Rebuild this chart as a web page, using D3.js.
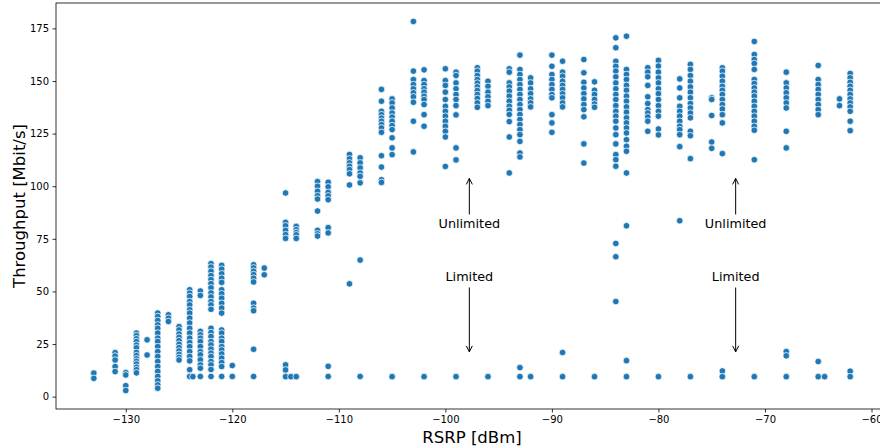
<!DOCTYPE html>
<html>
<head>
<meta charset="utf-8">
<script src="https://cdn.jsdelivr.net/npm/d3@7"></script>
<style>
  body { margin: 0; background: #fff; }
  svg { display: block; font-family: "DejaVu Sans", sans-serif; }
</style>
</head>
<body>
<svg width="880" height="448"></svg>
<script>
// RSRP [dBm] of each measurement column
const rsrp = [-133, -131, -130, -129, -128, -127, -126, -125, -124, -123.7, -123, -122, -121, -120,
  -118, -117, -115, -114.5, -114, -112, -111, -109, -108, -106, -105, -103, -102, -100, -99,
  -97, -96, -94, -93, -92, -90, -89, -87, -86, -84, -83, -81, -80, -78, -77, -75, -74, -71,
  -68, -65, -64.4, -63, -62];

// throughput [Mbit/s] measured at each RSRP column above
const throughput = [
  [11.2, 8.7],
  [20.9, 19.3, 17.4, 14.3, 11.9],
  [11.4, 10.3, 5.2, 2.9],
  [30.2, 29, 27.5, 26.2, 24.5, 23.2, 21, 19.5, 18, 16.8, 15.5, 14, 12.8, 11.3],
  [27, 19.8],
  [39.7, 38.1, 36.2, 34.1, 32.5, 30.2, 27.8, 26.2, 23.8, 21.4, 19.1, 16.7, 14.3, 12, 9.6, 7.5, 5.6, 4],
  [38.9, 37.3, 35.7],
  [33.3, 31.7, 29.8, 28.2, 26.6, 24.9, 23.3, 21.7, 20.1, 18.7, 17.4],
  [50.8, 49.2, 47.6, 45.2, 43.6, 41.3, 39.7, 37.3, 35, 32.5, 30.2, 27.8, 25.7, 23.8, 21.4, 19.1, 17, 12.8, 9.6],
  [9.5],
  [50.2, 48.1, 31, 29.4, 27.8, 26.2, 23.8, 21.4, 19.9, 17.5, 15.1, 13.5, 9.6],
  [63.2, 61.6, 59.6, 57.5, 55.6, 53.7, 51.7, 49.3, 47.4, 45.2, 43.6, 41.5, 32.5, 30.5, 28.6, 26.2, 24.6, 22.6, 20.7, 19.1, 16.7, 15.1, 12.9, 9.6],
  [62.4, 60.6, 58.4, 56.3, 54.3, 50.8, 48.9, 46.8, 44.4, 42.1, 39.7, 31.7, 30.2, 27.8, 26.2, 23.8, 22.2, 20.3, 18.3, 16.2, 14.3, 9.6],
  [14.8, 9.6],
  [62.7, 61.2, 59.6, 58, 56.3, 54.5, 44.4, 42.1, 40.8, 22.5, 9.6],
  [61.1, 57.9],
  [96.8, 82.8, 81.2, 79, 77, 75.2, 15.1, 12.7, 9.5],
  [9.5],
  [80.9, 79.3, 78, 76.9, 75.2, 9.5],
  [102.2, 100, 97.6, 95.5, 93.9, 88.2, 79, 77.4, 76.3],
  [101.9, 99.7, 97.1, 95.4, 93.6, 80.3, 77.8, 14.4, 9.6],
  [115.1, 113, 111.1, 109.5, 107.9, 105.9, 100.6, 53.6],
  [113.5, 111.1, 108.7, 106.3, 104.7, 101.6, 64.9, 9.6],
  [146, 140.4, 135.6, 134, 132.4, 130.9, 129.3, 127.7, 125.6, 114.5, 109.1, 103.1, 101.8],
  [141.5, 139.6, 137.2, 134.8, 132.9, 130.9, 128.8, 126.9, 123, 118.2, 115, 9.5],
  [178.3, 154.7, 150.7, 148.3, 146.3, 144.4, 142.5, 139.9, 130.9, 116.3],
  [155.3, 150.2, 148.3, 146.3, 144.7, 142.8, 141.2, 138.8, 134, 128.5, 9.5],
  [155.8, 150.2, 147.9, 144.7, 141.2, 138, 135.6, 133.3, 130.9, 128.5, 126.1, 123.4, 109.4],
  [154.2, 152.6, 149.1, 146.3, 143.6, 141.2, 138.3, 133.9, 118.2, 112.5, 9.5],
  [156.3, 154.7, 152.6, 150.7, 149, 147.2, 145.5, 143.6, 141.7, 139.6, 137.5],
  [149.9, 147.5, 144.7, 142.5, 140.4, 138.3, 9.5],
  [155.8, 154.2, 149.1, 147.2, 145.2, 142.8, 140.4, 138, 136.1, 134.1, 130.7, 123.4, 106.3],
  [162.3, 155.5, 153.1, 150.7, 148.3, 146, 143.6, 141.2, 138.8, 136.4, 134.1, 131.7, 129.3, 126.9, 124.5, 121.3, 115.8, 113.9, 13.8, 9.5],
  [151.5, 149.1, 146.3, 144, 141.5, 139.6, 137.7, 9.5],
  [162.3, 157, 153.1, 150.7, 148.3, 146, 143.6, 142, 134, 130.1, 125.6],
  [159.4, 154.2, 152.3, 149.9, 147.9, 146, 143.9, 142, 139.6, 137.7, 21, 9.5],
  [160.2, 153.9, 149.4, 146.7, 144, 141.5, 138.8, 136.4, 133, 120.1, 111],
  [149.6, 145.6, 143.6, 141.2, 139.1, 137.5, 9.5],
  [170.5, 165.8, 159.4, 157, 154.7, 152, 149.1, 146.3, 143.6, 141.2, 138.3, 135.6, 133.3, 130.9, 127.7, 124.5, 120.1, 115, 112.6, 109.5, 72.8, 66.5, 45.2],
  [171.3, 155.5, 153.1, 150.7, 147.9, 145.6, 142.8, 140.4, 137.7, 135.2, 132.5, 130.1, 127.7, 125.3, 122.1, 119, 116.6, 106.3, 81.2, 17.1, 9.5],
  [156.3, 154.2, 152, 147.9, 142.5, 139.3, 136.4, 134.8, 132.9, 130.9, 126.1],
  [159.8, 157.1, 154.2, 151.5, 149.1, 146.3, 144, 141.2, 138.3, 135.6, 133.3, 127.2, 124.4, 9.5],
  [151, 146.7, 142, 138, 135.6, 133.3, 130.9, 128.5, 126.9, 124.5, 118.8, 83.6],
  [157.9, 155.5, 152.6, 149.9, 147.2, 144.7, 142, 139.3, 137.2, 134.8, 132.5, 126.1, 124, 113.1, 9.5],
  [142, 141.2, 133.6, 121, 118],
  [156.3, 154.7, 152.3, 149.9, 147.5, 145.6, 143.6, 141.2, 138.8, 136.7, 134, 130.1, 115.5, 12.2, 9.5],
  [168.8, 162.6, 160.2, 158.3, 155.5, 150.7, 148.8, 146.7, 144.7, 142.8, 140.4, 138, 135.6, 133.3, 130.9, 128.5, 126.6, 112.6, 9.5],
  [154.2, 149.1, 146.7, 144.4, 142, 139.6, 137.2, 126.1, 118.2, 21.4, 19.4, 9.5],
  [157.4, 150.7, 148.3, 146, 143.6, 141.2, 138.8, 136.4, 134, 16.7, 9.5],
  [9.5],
  [141.5, 138.3],
  [153.6, 151.5, 149.4, 147.5, 145.6, 143.6, 141.5, 139.6, 137.7, 135.6, 130.9, 126.4, 12.1, 9.5]
];

const xTicks = [-130, -120, -110, -100, -90, -80, -70, -60];
const yTicks = [0, 25, 50, 75, 100, 125, 150, 175];

// arrow annotations (data coordinates)
const noteLabels = ["Unlimited", "Limited", "Unlimited", "Limited"];
const noteX = [-97.75, -97.75, -72.75, -72.75];
const noteTextY = [82.3, 57.1, 82.3, 57.1];
const noteTipY = [105, 20, 105, 20];

const points = [];
rsrp.forEach((x, i) => throughput[i].forEach(y => points.push({x: x, y: y})));

const margin = {left: 56, top: 3, right: 888, bottom: 409};

function pad(ext) {
  const p = (ext[1] - ext[0]) * 0.05;
  return [ext[0] - p, ext[1] + p];
}

const x = d3.scaleLinear()
    .domain(pad(d3.extent(points, d => d.x)))
    .range([margin.left, margin.right]);
const y = d3.scaleLinear()
    .domain(pad(d3.extent(points, d => d.y)))
    .range([margin.bottom, margin.top]);

const svg = d3.select("svg");

// points
svg.append("g")
  .selectAll("circle")
  .data(points)
  .join("circle")
    .attr("cx", d => x(d.x))
    .attr("cy", d => y(d.y))
    .attr("r", 3.3)
    .attr("fill", "#1f77b4")
    .attr("stroke", "#fff")
    .attr("stroke-width", 0.75);

// axes
const xAxis = svg.append("g")
    .attr("transform", `translate(0,${margin.bottom})`)
    .call(d3.axisBottom(x).tickValues(xTicks).tickSize(3.5).tickPadding(3.5).tickSizeOuter(0));
const yAxis = svg.append("g")
    .attr("transform", `translate(${margin.left},0)`)
    .call(d3.axisLeft(y).tickValues(yTicks).tickSize(3.5).tickPadding(3.5).tickSizeOuter(0));

[xAxis, yAxis].forEach(g => {
  g.select(".domain").remove();
  g.selectAll("line").attr("stroke", "#000").attr("stroke-width", 0.8);
  g.selectAll("text").attr("fill", "#000").style("font-size", "10px").style("font-family", "DejaVu Sans");
});

// frame
svg.append("rect")
    .attr("x", margin.left)
    .attr("y", margin.top)
    .attr("width", margin.right - margin.left)
    .attr("height", margin.bottom - margin.top)
    .attr("fill", "none")
    .attr("stroke", "#000")
    .attr("stroke-width", 0.8);

// axis labels
svg.append("text")
    .attr("x", (margin.left + margin.right) / 2)
    .attr("y", 443)
    .attr("text-anchor", "middle")
    .style("font-size", "16.5px")
    .text("RSRP [dBm]");

svg.append("text")
    .attr("transform", `translate(25,${(margin.top + margin.bottom) / 2}) rotate(-90)`)
    .attr("text-anchor", "middle")
    .style("font-size", "16.5px")
    .text("Throughput [Mbit/s]");

// annotations
const notes = svg.append("g");
noteLabels.forEach((label, i) => {
  const nx = x(noteX[i]);
  const ty = y(noteTextY[i]);
  const tip = y(noteTipY[i]);
  const up = tip < ty;
  const start = up ? ty - 9 : ty + 11;
  const end = up ? tip + 2.7 : tip - 2.7;
  const dir = up ? 1 : -1;
  notes.append("text")
      .attr("x", nx)
      .attr("y", ty)
      .attr("dy", "0.35em")
      .attr("text-anchor", "middle")
      .style("font-size", "12.8px")
      .text(label);
  notes.append("line")
      .attr("x1", nx).attr("x2", nx)
      .attr("y1", start).attr("y2", end)
      .attr("stroke", "#000")
      .attr("stroke-width", 1);
  notes.append("path")
      .attr("d", `M${nx - 3},${end + dir * 6}L${nx},${end}L${nx + 3},${end + dir * 6}`)
      .attr("fill", "none")
      .attr("stroke", "#000")
      .attr("stroke-width", 1);
});
</script>
</body>
</html>
